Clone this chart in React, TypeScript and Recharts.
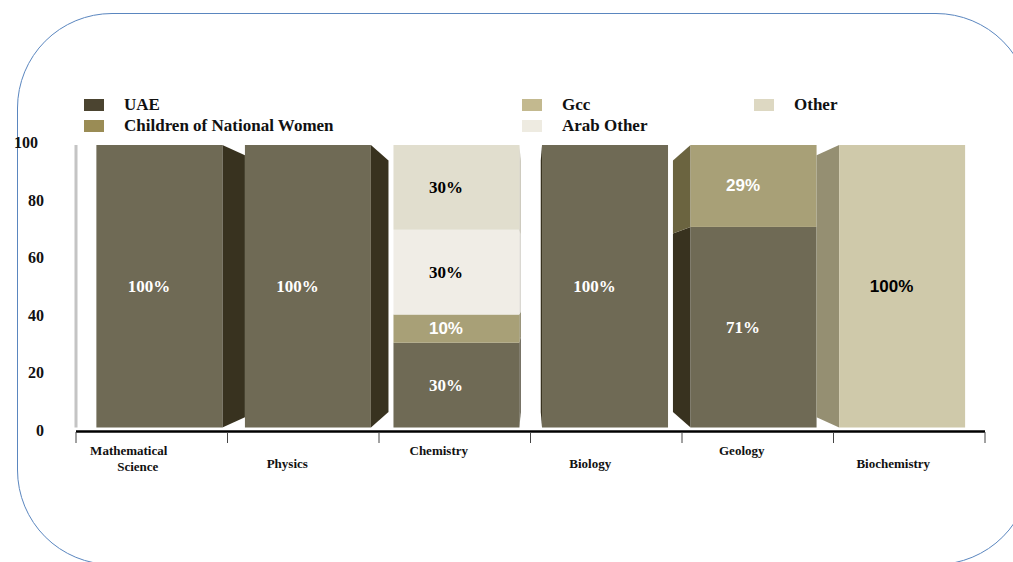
import React from 'react';
import { BarChart, Bar, XAxis, YAxis } from 'recharts';

// ---------- data ----------
const categories = ['Mathematical Science', 'Physics', 'Chemistry', 'Biology', 'Geology', 'Biochemistry'];
const uae = [100, 100, 30, 100, 71, null];
const childrenOfNationalWomen = [null, null, 10, null, 29, null];
const gcc = [null, null, null, null, null, 100];
const arabOther = [null, null, 30, null, null, null];
const other = [null, null, 30, null, null, null];
const yTicks = [0, 20, 40, 60, 80, 100];

const data = categories.map((name, i) => ({
  name,
  uae: uae[i],
  children: childrenOfNationalWomen[i],
  gcc: gcc[i],
  arabOther: arabOther[i],
  other: other[i],
}));

// ---------- styles ----------
const SERIF = '"Liberation Serif", "Times New Roman", serif';
const SANS = '"Liberation Sans", Arial, sans-serif';

type Series = {
  key: string;
  name: string;
  front: string;
  side: string;
  legend: string;
  labelColor: string;
  labelFont: string;
};

const series: Series[] = [
  { key: 'uae', name: 'UAE', front: '#6f6a55', side: '#38321f', legend: '#4b4430', labelColor: '#ffffff', labelFont: SERIF },
  { key: 'children', name: 'Children of National Women', front: '#a8a077', side: '#6b6440', legend: '#9a8c55', labelColor: '#ffffff', labelFont: SANS },
  { key: 'gcc', name: 'Gcc', front: '#cfc9aa', side: '#958f72', legend: '#c3b98f', labelColor: '#000000', labelFont: SANS },
  { key: 'arabOther', name: 'Arab Other', front: '#f0ede6', side: '#c9c6bd', legend: '#eeebe1', labelColor: '#000000', labelFont: SERIF },
  { key: 'other', name: 'Other', front: '#e1dece', side: '#b7b3a2', legend: '#ddd8c2', labelColor: '#000000', labelFont: SERIF },
];

// ---------- layout ----------
const W = 1013;
const H = 562;
const PLOT_LEFT = 76;
const PLOT_RIGHT = 985;
const PLOT_TOP = 145;
const PLOT_BOTTOM = 427.5;
const X_AXIS_H = 30;
const STEP = (PLOT_RIGHT - PLOT_LEFT) / categories.length;
const VP_X = (PLOT_LEFT + PLOT_RIGHT) / 2;
const VP_Y = (PLOT_TOP + PLOT_BOTTOM) / 2;
const K = 0.9805; // front face perspective
const S = 0.89; // back face perspective

function Bar3D(props: any) {
  const { x, y, width, height, payload, s } = props;
  const value = payload ? payload[s.key] : null;
  if (value == null || !height || height <= 0) return null;
  const c = x + width / 2;
  const fc = VP_X + (c - VP_X) * K;
  const fl = fc - width / 2;
  const fr = fc + width / 2;
  const y0 = y;
  const y1 = y + height;
  let side: React.ReactNode = null;
  if (Math.abs(fc - VP_X) > 0.5) {
    const onLeft = fc < VP_X;
    const edge = onLeft ? fr : fl;
    const back = VP_X + (edge - VP_X) * S;
    const nc = VP_X + (c + (onLeft ? STEP : -STEP) - VP_X) * K;
    const nEdge = onLeft ? nc - width / 2 : nc + width / 2;
    const full = back - edge;
    const limit = nEdge - edge;
    const t = Math.abs(full) > 0 ? Math.min(1, Math.abs(limit) / Math.abs(full)) : 0;
    const xe = edge + full * t;
    const by0 = y0 + (VP_Y + (y0 - VP_Y) * S - y0) * t;
    const by1 = y1 + (VP_Y + (y1 - VP_Y) * S - y1) * t;
    side = (
      <polygon
        points={`${edge},${y0} ${xe},${by0} ${xe},${by1} ${edge},${y1}`}
        fill={s.side}
      />
    );
  }
  return (
    <g>
      {side}
      <rect x={fl} y={y0} width={width} height={height} fill={s.front} />
      <text
        x={fc - 10.5}
        y={y0 + height / 2}
        textAnchor="middle"
        dominantBaseline="central"
        fill={s.labelColor}
        fontFamily={s.labelFont}
        fontWeight="bold"
        fontSize={17}
      >
        {`${value}%`}
      </text>
    </g>
  );
}

function XTick(props: any) {
  const { x, index, payload } = props;
  const label: string = payload.value;
  const top = PLOT_BOTTOM + 4.5;
  const row = index % 2 === 0 ? 0 : 1;
  const ty = row === 0 ? 450 : 463.5;
  const words = label === 'Mathematical Science' ? ['Mathematical', 'Science'] : [label];
  const cx = x - 16;
  return (
    <g>
      <line x1={x - STEP / 2} x2={x - STEP / 2} y1={top} y2={top + 11} stroke="#444" strokeWidth={1} />
      {index === categories.length - 1 && (
        <line x1={x + STEP / 2} x2={x + STEP / 2} y1={top} y2={top + 11} stroke="#444" strokeWidth={1} />
      )}
      {words.length === 2 ? (
        <text textAnchor="middle" fontFamily={SERIF} fontWeight="bold" fontSize={13} fill="#111">
          <tspan x={cx - 7} y={ty} dominantBaseline="central">{words[0]}</tspan>
          <tspan x={cx + 2} y={ty + 16} dominantBaseline="central">{words[1]}</tspan>
        </text>
      ) : (
        <text x={cx} y={ty} textAnchor="middle" dominantBaseline="central" fontFamily={SERIF} fontWeight="bold" fontSize={13} fill="#111">
          {label}
        </text>
      )}
    </g>
  );
}

function YTick(props: any) {
  const { y, payload } = props;
  const v = payload.value;
  const dy = 2.5 - v * 0.048;
  const xr = v === 100 ? 38 : 44;
  return (
    <text x={xr} y={y + dy} textAnchor="end" dominantBaseline="central" fontFamily={SERIF} fontWeight="bold" fontSize={16} fill="#111">
      {v}
    </text>
  );
}

const legendLayout = [
  { key: 'uae', col: 0, row: 0 },
  { key: 'children', col: 0, row: 1 },
  { key: 'gcc', col: 1, row: 0 },
  { key: 'arabOther', col: 1, row: 1 },
  { key: 'other', col: 2, row: 0 },
];
const legendCols = [84, 522, 754];
const legendRows = [105, 126];

function LegendBlock() {
  return (
    <>
      {legendLayout.map((l) => {
        const s = series.find((q) => q.key === l.key)!;
        const lx = legendCols[l.col];
        const ly = legendRows[l.row];
        return (
          <div key={l.key}>
            <div style={{ position: 'absolute', left: lx, top: ly - 6, width: 20, height: 12, background: s.legend }} />
            <div
              style={{
                position: 'absolute',
                left: lx + 40,
                top: ly - 10,
                height: 20,
                lineHeight: '20px',
                fontFamily: SERIF,
                fontWeight: 'bold',
                fontSize: 17,
                color: '#111',
                whiteSpace: 'nowrap',
              }}
            >
              {s.name}
            </div>
          </div>
        );
      })}
    </>
  );
}

export default function App() {
  return (
    <div style={{ position: 'absolute', left: 0, top: 0, width: W, height: H, overflow: 'hidden', background: '#fff' }}>
      <div
        style={{
          position: 'absolute',
          left: 17,
          top: 13,
          width: 1014,
          height: 552,
          border: '1px solid #5a86bf',
          borderRadius: 95,
          boxSizing: 'border-box',
        }}
      />
      <div style={{ position: 'absolute', left: 0, top: 0 }}>
        <BarChart
          width={W}
          height={H}
          data={data}
          margin={{ top: PLOT_TOP, right: W - PLOT_RIGHT, bottom: H - PLOT_BOTTOM - X_AXIS_H, left: 0 }}
          barCategoryGap={0}
          barSize={126}
        >
          <XAxis
            dataKey="name"
            interval={0}
            height={X_AXIS_H}
            tickLine={false}
            axisLine={{ stroke: '#000', strokeWidth: 2.5, transform: 'translate(0,4)' }}
            tick={<XTick />}
          />
          <YAxis
            width={PLOT_LEFT}
            domain={[0, 100]}
            ticks={yTicks}
            tickLine={false}
            axisLine={{ stroke: '#c4c4c4', strokeWidth: 3 }}
            tick={<YTick />}
          />
          {series.map((s) => (
            <Bar
              key={s.key}
              dataKey={s.key}
              name={s.name}
              stackId="a"
              fill={s.front}
              isAnimationActive={false}
              shape={(p: any) => <Bar3D {...p} s={s} />}
            />
          ))}
        </BarChart>
      </div>
      <LegendBlock />
    </div>
  );
}
